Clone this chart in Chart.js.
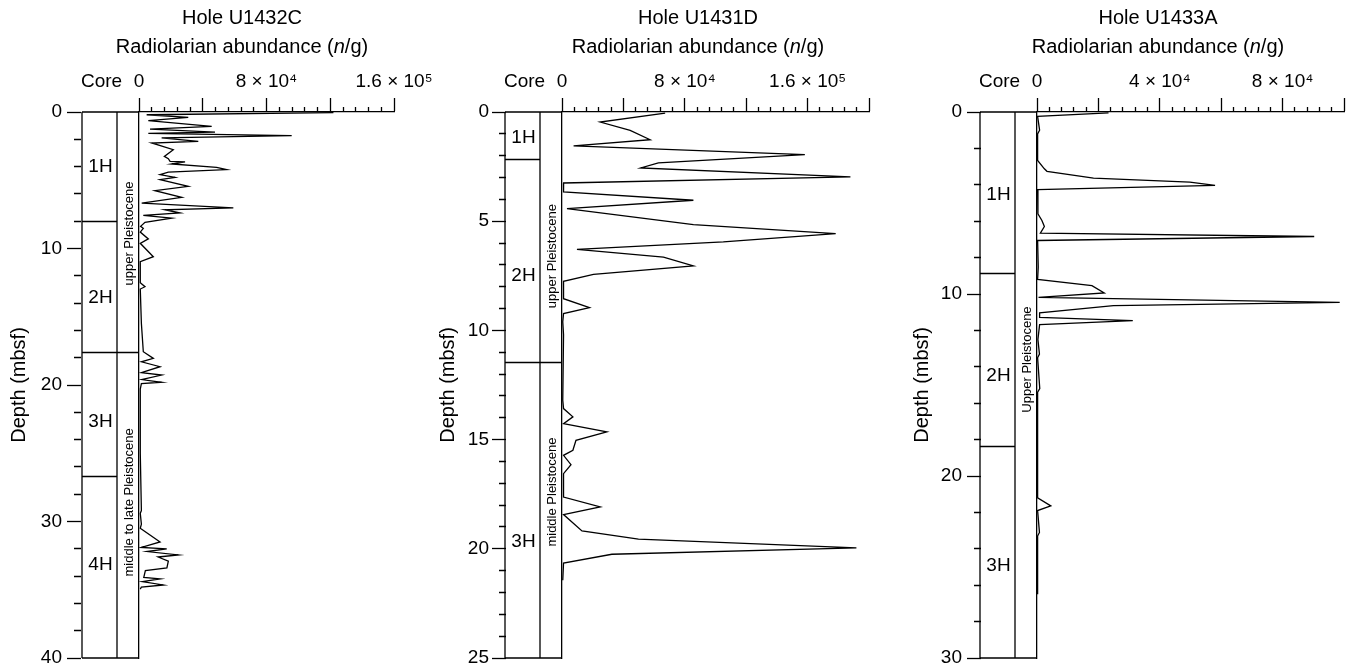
<!DOCTYPE html>
<html>
<head>
<meta charset="utf-8">
<script src="https://cdn.jsdelivr.net/npm/chart.js@4.4.1/dist/chart.umd.min.js"></script>
<style>
  html, body { margin: 0; padding: 0; background: #fff; overflow: hidden; width: 1350px; height: 666px; }
  .panel { position: absolute; top: 0; }
</style>
</head>
<body>
<div class="panel" style="left:0px"><canvas id="c1" width="450" height="680"></canvas></div>
<div class="panel" style="left:430px"><canvas id="c2" width="470" height="680"></canvas></div>
<div class="panel" style="left:900px"><canvas id="c3" width="450" height="680"></canvas></div>
<script>
// Hole U1432C
const U1432C_DEPTH = [0.05, 0.2, 0.39, 0.63, 1.05, 1.25, 1.47, 1.56, 1.73, 1.9, 2.15, 2.27, 2.76, 3.25, 3.42, 3.61, 3.66, 3.81, 4.05, 4.22, 4.4, 4.59, 4.79, 4.96, 5.45, 5.76, 6.25, 6.67, 7.03, 7.16, 7.4, 7.57, 7.77, 8.08, 8.38, 8.52, 8.8, 9.3, 9.62, 10.6, 10.97, 12.5, 12.8, 12.97, 15.5, 17.56, 18.05, 18.3, 18.66, 19.1, 19.27, 19.6, 19.8, 19.9, 20.3, 25.0, 29.2, 29.4, 30.2, 30.5, 31.5, 31.9, 32.0, 32.2, 32.45, 32.6, 32.9, 33.4, 33.6, 34.1, 34.2, 34.4, 34.65, 34.8, 34.95];
const U1432C_ABUND = [122000, 4800, 30900, 5850, 45600, 6900, 47700, 5850, 95800, 14200, 37200, 8000, 21500, 15900, 18400, 19500, 28900, 20500, 48700, 55000, 18400, 13200, 22600, 13200, 30900, 10000, 26800, 1700, 59200, 16300, 25700, 2700, 20500, 3760, 1000, 2700, 800, 5850, 800, 9000, 800, 800, 3760, 800, 1500, 2700, 9000, 1500, 13200, 1500, 14200, 1500, 14200, 1500, 800, 800, 1500, 800, 1500, 800, 13200, 1500, 17400, 5000, 24700, 12000, 18400, 17500, 4000, 3000, 13200, 2000, 15300, 1500, 800];
const U1432C_CORES = ['1H', '2H', '3H', '4H'];
const U1432C_CORE_TOPS = [0, 8.0, 17.6, 26.7];
const U1432C_CORE_LABEL_DEPTH = [4.0, 13.6, 22.7, 33.2];
const U1432C_AGES = ['upper Pleistocene', 'middle to late Pleistocene'];
const U1432C_AGE_TOPS = [0, 17.6];
const U1432C_AGE_LABEL_DEPTH = [8.9, 28.6];

// Hole U1431D
const U1431D_DEPTH = [0.05, 0.46, 0.84, 1.27, 1.55, 1.95, 2.33, 2.56, 2.97, 3.25, 3.66, 4.04, 4.42, 5.16, 5.57, 5.95, 6.29, 6.64, 7.05, 7.43, 7.75, 8.55, 8.96, 9.23, 9.6, 10.2, 13.2, 13.58, 13.96, 14.27, 14.65, 15.03, 15.49, 15.72, 16.15, 16.56, 17.63, 18.08, 18.43, 19.18, 19.56, 19.96, 20.25, 20.65, 21.44];
const U1431D_ABUND = [67200, 24900, 44400, 57400, 7550, 158200, 62800, 51300, 187900, 1050, 1000, 85600, 3250, 85600, 178300, 105100, 9750, 66100, 85600, 20500, 1000, 1000, 17900, 1000, 500, 1000, 500, 1000, 7100, 1000, 29200, 9100, 7100, 1000, 5850, 1000, 1000, 24900, 1000, 13000, 49800, 191800, 32500, 1000, 500];
const U1431D_CORES = ['1H', '2H', '3H'];
const U1431D_CORE_TOPS = [0, 2.13, 11.46];
const U1431D_CORE_LABEL_DEPTH = [1.2, 7.5, 19.7];
const U1431D_AGES = ['upper Pleistocene', 'middle Pleistocene'];
const U1431D_AGE_TOPS = [0, 11.46];
const U1431D_AGE_LABEL_DEPTH = [6.6, 17.4];

// Hole U1433A
const U1433A_DEPTH = [0.05, 0.24, 1.0, 1.2, 2.66, 3.12, 3.26, 3.63, 3.85, 4.03, 4.27, 5.6, 5.96, 6.29, 6.66, 6.84, 7.06, 8.53, 9.2, 9.54, 9.94, 10.18, 10.46, 10.64, 11.04, 11.28, 11.46, 11.68, 12.5, 13.3, 13.5, 15.2, 15.4, 21.2, 21.64, 21.9, 23.1, 23.3, 26.5];
const U1433A_ABUND = [23300, 200, 850, 200, 200, 2400, 3250, 18400, 49800, 58000, 200, 300, 1600, 2400, 1100, 90300, 200, 400, 200, 17900, 21900, 500, 98600, 24900, 850, 850, 31200, 850, 300, 800, 200, 900, 200, 200, 4500, 200, 800, 200, 200];
const U1433A_CORES = ['1H', '2H', '3H'];
const U1433A_CORE_TOPS = [0, 8.86, 18.36];
const U1433A_CORE_LABEL_DEPTH = [4.55, 14.5, 24.95];
const U1433A_AGES = ['Upper Pleistocene'];
const U1433A_AGE_TOPS = [0];
const U1433A_AGE_LABEL_DEPTH = [13.6];

// top-axis tick labels
const X_LABEL_VALUES_WIDE = [0, 80000, 160000];
const X_LABELS_WIDE = ['0', '8 × 10⁴', '1.6 × 10⁵'];
const X_LABEL_VALUES_NARROW = [0, 40000, 80000];
const X_LABELS_NARROW = ['0', '4 × 10⁴', '8 × 10⁴'];

const FONT = '"Liberation Sans", Arial, Helvetica, sans-serif';
const TXT = 19;
const TITLE_TXT = 20;
const CANVAS_H = 680;
const PLOT_TOP = 112;
const PLOT_BOTTOM = 658;

const panels = [
  {
    id: 'c1', hole: 'Hole U1432C', depth: U1432C_DEPTH, abund: U1432C_ABUND,
    cores: U1432C_CORES, coreTops: U1432C_CORE_TOPS, coreMid: U1432C_CORE_LABEL_DEPTH,
    ages: U1432C_AGES, ageTops: U1432C_AGE_TOPS, ageMid: U1432C_AGE_LABEL_DEPTH,
    xVals: X_LABEL_VALUES_WIDE, xLabels: X_LABELS_WIDE,
    maxDepth: 40, depthStep: 2, depthMajor: 10, xMax: 160000, xStep: 8000, xMajor: 40000,
    width: 450, left: 139, right: 394, titleX: 242, yTitlePad: 7, yLabelPad: 5
  },
  {
    id: 'c2', hole: 'Hole U1431D', depth: U1431D_DEPTH, abund: U1431D_ABUND,
    cores: U1431D_CORES, coreTops: U1431D_CORE_TOPS, coreMid: U1431D_CORE_LABEL_DEPTH,
    ages: U1431D_AGES, ageTops: U1431D_AGE_TOPS, ageMid: U1431D_AGE_LABEL_DEPTH,
    xVals: X_LABEL_VALUES_WIDE, xLabels: X_LABELS_WIDE,
    maxDepth: 25, depthStep: 1, depthMajor: 5, xMax: 200000, xStep: 8000, xMajor: 40000,
    width: 470, left: 132, right: 439, titleX: 268, yTitlePad: 6, yLabelPad: 3
  },
  {
    id: 'c3', hole: 'Hole U1433A', depth: U1433A_DEPTH, abund: U1433A_ABUND,
    cores: U1433A_CORES, coreTops: U1433A_CORE_TOPS, coreMid: U1433A_CORE_LABEL_DEPTH,
    ages: U1433A_AGES, ageTops: U1433A_AGE_TOPS, ageMid: U1433A_AGE_LABEL_DEPTH,
    xVals: X_LABEL_VALUES_NARROW, xLabels: X_LABELS_NARROW,
    maxDepth: 30, depthStep: 2, depthMajor: 10, xMax: 100000, xStep: 4000, xMajor: 20000,
    width: 450, left: 137, right: 444, titleX: 258, yTitlePad: 10, yLabelPad: 5
  }
];

// core / age columns, "Core" header and the two title lines
function makeDecor(p) {
  return {
    id: 'decor_' + p.id,
    afterDraw(chart) {
      const { ctx, chartArea: a, scales: { y } } = chart;
      const coreL = a.left - 57, coreR = a.left - 22, ageR = a.left;
      const yTop = y.getPixelForValue(0), yBot = y.getPixelForValue(p.maxDepth);
      ctx.save();
      ctx.strokeStyle = '#000';
      ctx.lineWidth = 1.3;
      ctx.beginPath();
      ctx.moveTo(coreL, yTop); ctx.lineTo(coreL, yBot);
      ctx.moveTo(coreR, yTop); ctx.lineTo(coreR, yBot);
      ctx.moveTo(coreL, yTop); ctx.lineTo(ageR, yTop);
      ctx.moveTo(coreL, yBot); ctx.lineTo(ageR, yBot);
      p.coreTops.slice(1).forEach(d => {
        const py = Math.round(y.getPixelForValue(d)) + 0.5;
        ctx.moveTo(coreL, py); ctx.lineTo(coreR, py);
      });
      p.ageTops.slice(1).forEach(d => {
        const py = Math.round(y.getPixelForValue(d)) + 0.5;
        ctx.moveTo(coreR, py); ctx.lineTo(ageR, py);
      });
      ctx.stroke();

      ctx.fillStyle = '#000';
      ctx.textAlign = 'center';
      ctx.textBaseline = 'middle';
      ctx.font = `${TXT}px ${FONT}`;
      p.cores.forEach((c, i) => ctx.fillText(c, (coreL + coreR) / 2 + 1, y.getPixelForValue(p.coreMid[i])));
      ctx.fillText('Core', (coreL + coreR) / 2 + 2, 82);

      ctx.font = `13px ${FONT}`;
      p.ages.forEach((t, i) => {
        ctx.save();
        ctx.translate((coreR + ageR) / 2, y.getPixelForValue(p.ageMid[i]));
        ctx.rotate(-Math.PI / 2);
        ctx.fillText(t, 0, 1);
        ctx.restore();
      });

      ctx.font = `${TITLE_TXT}px ${FONT}`;
      ctx.fillText(p.hole, p.titleX, 18);
      const parts = [['Radiolarian abundance (', false], ['n', true], ['/g)', false]];
      const fontOf = it => `${it ? 'italic ' : ''}${TITLE_TXT}px ${FONT}`;
      let total = 0;
      parts.forEach(([s, it]) => { ctx.font = fontOf(it); total += ctx.measureText(s).width; });
      let x = p.titleX - total / 2;
      ctx.textAlign = 'left';
      parts.forEach(([s, it]) => { ctx.font = fontOf(it); ctx.fillText(s, x, 47); x += ctx.measureText(s).width; });
      ctx.restore();
    }
  };
}

panels.forEach(p => {
  const points = p.depth.map((d, i) => ({ x: p.abund[i], y: d }));
  const yTickLen = p.left - 67 + (p.id === 'c2' ? 5 : 0);
  new Chart(document.getElementById(p.id), {
    type: 'scatter',
    data: {
      datasets: [{
        data: points,
        showLine: true,
        borderColor: '#000',
        borderWidth: 1.3,
        pointRadius: 0,
        tension: 0
      }]
    },
    options: {
      responsive: false,
      animation: false,
      devicePixelRatio: 1,
      layout: { padding: { left: 0, top: 0, right: p.width - p.right, bottom: CANVAS_H - PLOT_BOTTOM } },
      plugins: { legend: { display: false }, tooltip: { enabled: false } },
      scales: {
        x: {
          type: 'linear',
          position: 'top',
          min: 0,
          max: p.xMax,
          afterFit: s => { s.height = PLOT_TOP; },
          border: { display: true, color: '#000', width: 1.3 },
          grid: {
            drawOnChartArea: false,
            tickLength: 14,
            tickColor: '#000',
            tickWidth: 1.3,
            tickBorderDash: c => (c.tick && c.tick.value % p.xMajor === 0) ? [] : [0, 9, 5, 200]
          },
          ticks: {
            stepSize: p.xStep,
            autoSkip: false,
            maxRotation: 0,
            padding: 5,
            color: '#000',
            font: { family: FONT, size: TXT },
            callback: v => {
              const k = p.xVals.indexOf(v);
              return k >= 0 ? p.xLabels[k] : '';
            }
          }
        },
        y: {
          type: 'linear',
          position: 'left',
          reverse: true,
          min: 0,
          max: p.maxDepth,
          afterFit: s => { s.width = p.left; },
          border: { display: true, color: '#000', width: 1.3 },
          grid: {
            drawOnChartArea: false,
            tickLength: yTickLen,
            tickColor: '#000',
            tickWidth: 1.3,
            tickBorderDash: c => (c.tick && c.tick.value % p.depthMajor === 0) ? [14, 400] : [0, 7, 7, 400]
          },
          ticks: {
            stepSize: p.depthStep,
            autoSkip: false,
            padding: p.yLabelPad,
            color: '#000',
            font: { family: FONT, size: TXT },
            callback: v => (v % p.depthMajor === 0 ? String(v) : '')
          },
          title: {
            display: true,
            text: 'Depth (mbsf)',
            color: '#000',
            font: { family: FONT, size: TITLE_TXT },
            padding: { top: p.yTitlePad, bottom: 0 }
          }
        }
      }
    },
    plugins: [makeDecor(p)]
  });
});
</script>
</body>
</html>
